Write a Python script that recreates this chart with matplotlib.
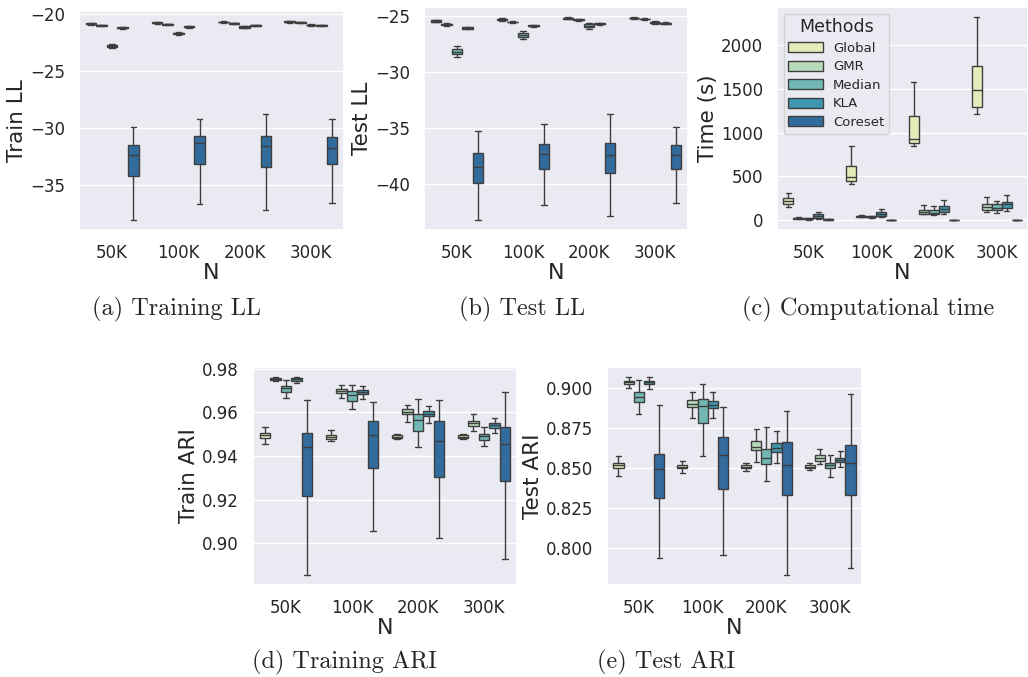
import numpy as np
import pandas as pd
import matplotlib
matplotlib.use("Agg")
import matplotlib.pyplot as plt
from matplotlib.ticker import MultipleLocator
import seaborn as sns

# --- Data: five-number summaries (whisker low, q1, median, q3, whisker high) ---
SIZES = ["50K", "100K", "200K", "300K"]
METHODS = ["Global", "GMR", "Median", "KLA", "Coreset"]

train_ll = {
    "Global":  [(-20.90, -20.85, -20.82, -20.79, -20.75), (-20.80, -20.76, -20.73, -20.70, -20.66),
                (-20.74, -20.70, -20.67, -20.64, -20.60), (-20.71, -20.67, -20.64, -20.61, -20.57)],
    "GMR":     [(-21.04, -21.00, -20.96, -20.93, -20.89), (-20.94, -20.90, -20.87, -20.84, -20.80),
                (-20.86, -20.82, -20.79, -20.76, -20.72), (-20.77, -20.73, -20.70, -20.67, -20.63)],
    "Median":  [(-22.92, -22.82, -22.74, -22.66, -22.58), (-21.80, -21.73, -21.66, -21.60, -21.53),
                (-21.22, -21.15, -21.10, -21.05, -20.99), (-21.00, -20.96, -20.93, -20.90, -20.86)],
    "KLA":     [(-21.25, -21.21, -21.17, -21.14, -21.10), (-21.16, -21.12, -21.08, -21.05, -21.01),
                (-21.03, -21.00, -20.96, -20.93, -20.89), (-21.03, -21.00, -20.96, -20.93, -20.89)],
    "Coreset": [(-38.1, -34.2, -32.36, -31.49, -29.9), (-36.7, -33.2, -31.34, -30.7, -29.16),
                (-37.2, -33.4, -31.6, -30.7, -28.8), (-36.64, -33.18, -31.78, -30.77, -29.22)],
}

test_ll = {
    "Global":  [(-25.56, -25.50, -25.44, -25.38, -25.32), (-25.40, -25.35, -25.30, -25.26, -25.21),
                (-25.29, -25.24, -25.20, -25.16, -25.12), (-25.26, -25.22, -25.18, -25.14, -25.10)],
    "GMR":     [(-25.88, -25.81, -25.74, -25.68, -25.62), (-25.62, -25.57, -25.53, -25.49, -25.44),
                (-25.44, -25.39, -25.35, -25.31, -25.27), (-25.35, -25.31, -25.27, -25.23, -25.19)],
    "Median":  [(-28.63, -28.40, -28.19, -27.98, -27.63), (-27.04, -26.86, -26.68, -26.54, -26.36),
                (-26.18, -26.00, -25.86, -25.74, -25.65), (-25.72, -25.66, -25.59, -25.52, -25.46)],
    "KLA":     [(-26.18, -26.12, -26.06, -26.00, -25.94), (-25.95, -25.90, -25.86, -25.82, -25.77),
                (-25.78, -25.73, -25.68, -25.63, -25.58), (-25.75, -25.70, -25.65, -25.60, -25.55)],
    "Coreset": [(-43.16, -39.9, -38.43, -37.17, -35.27), (-41.86, -38.67, -37.25, -36.37, -34.6),
                (-42.86, -38.97, -37.34, -36.28, -33.7), (-41.7, -38.67, -37.34, -36.45, -34.89)],
}

time_s = {
    "Global":  [(148, 190, 224, 255, 312), (415, 444, 494, 615, 854),
                (843, 881, 927, 1192, 1576), (1212, 1298, 1488, 1762, 2323)],
    "GMR":     [(10, 15, 20, 25, 32), (32, 40, 46, 52, 60),
                (65, 73, 96, 114, 171), (96, 114, 148, 179, 267)],
    "Median":  [(6, 11, 15, 19, 25), (28, 34, 39, 45, 52),
                (57, 73, 84, 114, 164), (84, 114, 141, 179, 224)],
    "KLA":     [(16, 27, 46, 65, 96), (39, 46, 73, 96, 130),
                (73, 96, 122, 159, 228), (103, 141, 190, 205, 285)],
    "Coreset": [(4, 6, 8, 10, 12), (3, 4, 5, 6, 7),
                (3, 4, 5, 6, 7), (3, 4, 5, 6, 7)],
}

train_ari = {
    "Global":  [(0.9457, 0.9483, 0.9495, 0.9507, 0.9533), (0.9468, 0.9480, 0.9488, 0.9495, 0.9518),
                (0.9477, 0.9483, 0.9489, 0.9495, 0.9500), (0.9476, 0.9482, 0.9488, 0.9494, 0.9500)],
    "GMR":     [(0.9742, 0.9747, 0.9754, 0.9759, 0.9762), (0.9666, 0.9689, 0.9698, 0.9706, 0.9724),
                (0.9556, 0.9590, 0.9602, 0.9613, 0.9632), (0.9513, 0.9538, 0.9549, 0.9561, 0.9590)],
    "Median":  [(0.9667, 0.9695, 0.9709, 0.9719, 0.9747), (0.9613, 0.9651, 0.9681, 0.9696, 0.9727),
                (0.9442, 0.9515, 0.9564, 0.9594, 0.9660), (0.9446, 0.9475, 0.9491, 0.9503, 0.9533)],
    "KLA":     [(0.9736, 0.9745, 0.9751, 0.9756, 0.9762), (0.9663, 0.9686, 0.9693, 0.9704, 0.9721),
                (0.9552, 0.9582, 0.9594, 0.9608, 0.9628), (0.9507, 0.9530, 0.9541, 0.9553, 0.9576)],
    "Coreset": [(0.8855, 0.9218, 0.9439, 0.9507, 0.9655), (0.9058, 0.9343, 0.9498, 0.9562, 0.9645),
                (0.9025, 0.9302, 0.9470, 0.9559, 0.9655), (0.8927, 0.9286, 0.9457, 0.9533, 0.9693)],
}

test_ari = {
    "Global":  [(0.8452, 0.8498, 0.8517, 0.8529, 0.8575), (0.8471, 0.8498, 0.8508, 0.8519, 0.8544),
                (0.8481, 0.8498, 0.8508, 0.8519, 0.8529), (0.8485, 0.8498, 0.8508, 0.8519, 0.8529)],
    "GMR":     [(0.9004, 0.9029, 0.9038, 0.9046, 0.9071), (0.8816, 0.8881, 0.8900, 0.8927, 0.8979),
                (0.8540, 0.8613, 0.8634, 0.8669, 0.8745), (0.8523, 0.8546, 0.8565, 0.8582, 0.8617)],
    "Median":  [(0.8841, 0.8916, 0.8948, 0.8979, 0.9050), (0.8577, 0.8780, 0.8891, 0.8931, 0.9025),
                (0.8421, 0.8523, 0.8561, 0.8619, 0.8759), (0.8446, 0.8498, 0.8519, 0.8529, 0.8582)],
    "KLA":     [(0.8996, 0.9025, 0.9036, 0.9048, 0.9071), (0.8816, 0.8874, 0.8895, 0.8923, 0.8979),
                (0.8529, 0.8598, 0.8623, 0.8655, 0.8732), (0.8508, 0.8536, 0.8550, 0.8565, 0.8607)],
    "Coreset": [(0.7933, 0.8310, 0.8494, 0.8586, 0.8895), (0.7954, 0.8366, 0.8582, 0.8697, 0.8881),
                (0.7828, 0.8331, 0.8519, 0.8665, 0.8860), (0.7870, 0.8331, 0.8529, 0.8644, 0.8962)],
}


def to_long(summary):
    # five values per box; with whis=(0, 100) they give back exactly the summary
    rows = []
    for m in METHODS:
        for size, five in zip(SIZES, summary[m]):
            for v in five:
                rows.append({"N": size, "Methods": m, "value": v})
    return pd.DataFrame(rows)


sns.set_theme(style="darkgrid")
plt.rcParams["font.family"] = ["DejaVu Sans"]
palette = sns.color_palette("YlGnBu", 6)[:5]

fig = plt.figure(figsize=(10.28, 6.77), dpi=100)
W, H = 1028, 677


def px_axes(left, top, right, bottom):
    return fig.add_axes([left / W, 1 - bottom / H, (right - left) / W, (bottom - top) / H])


panels = [
    (train_ll, "Train LL", (79, 11, 344, 230), 5, "(a) Training LL", (176, 309)),
    (test_ll, "Test LL", (424, 7, 688, 230), 5, "(b) Test LL", (522, 309)),
    (time_s, "Time (s)", (777, 7, 1028, 230), 500, "(c) Computational time", (868, 309)),
    (train_ari, "Train ARI", (253, 367, 517, 585), 0.02, "(d) Training ARI", (344, 662)),
    (test_ari, "Test ARI", (607, 367, 862, 585), 0.025, "(e) Test ARI", (666, 662)),
]

for i, (summary, ylabel, box, step, caption, cpos) in enumerate(panels):
    ax = px_axes(*box)
    df = to_long(summary)
    sns.boxplot(data=df, x="N", y="value", hue="Methods", palette=palette,
                whis=(0, 100), showfliers=False, ax=ax, legend=(i == 2))
    ax.set_xlabel("N", fontsize=16, labelpad=1)
    ax.set_ylabel(ylabel, fontsize=15.5, labelpad=2)
    ax.tick_params(labelsize=12, pad=4)
    ax.yaxis.set_major_locator(MultipleLocator(step))
    if i == 2:
        ax.legend(loc="upper left", title="Methods", fontsize=9.5, title_fontsize=12.5,
                  borderpad=0.35, labelspacing=0.42, handlelength=2.6, handleheight=0.8)
    fig.text(cpos[0] / W, 1 - cpos[1] / H, caption, ha="center", va="center",
             fontsize=17.5, family="cmr10")

fig.savefig("out.png", dpi=100)
